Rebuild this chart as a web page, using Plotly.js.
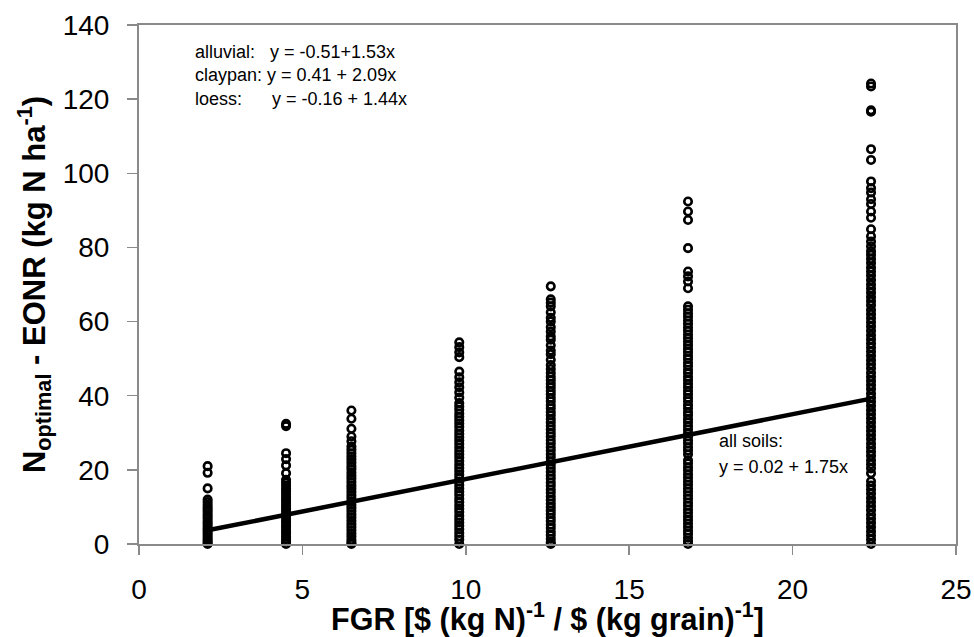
<!DOCTYPE html>
<html>
<head>
<meta charset="utf-8">
<script src="https://cdn.plot.ly/plotly-3.0.1.min.js"></script>
<style>
html, body { margin: 0; padding: 0; background: #fff; }
#chart { width: 974px; height: 637px; }
</style>
</head>
<body>
<div id="chart"></div>
<script>
// FGR levels (x positions of the observation columns)
const fgrLevels = [2.1, 4.5, 6.5, 9.8, 12.6, 16.8, 22.4];

// N optimal - EONR values read from each column
const obsFgr2_1 = [21.0, 19.2, 15.0, 12.0, 11.3, 10.6, 9.9, 9.3, 8.7, 8.0, 7.4, 6.8, 6.1, 5.5, 4.9, 4.3, 3.8, 3.2, 2.6, 2.0, 1.4, 0.9, 0.4, 0.0];
const obsFgr4_5 = [32.4, 31.8, 24.5, 22.9, 21.2, 19.1, 17.3, 16.5, 15.7, 14.9, 14.2, 13.4, 12.6, 11.9, 11.1, 10.3, 9.6, 8.8, 8.0, 7.3, 6.5, 5.8, 5.0, 4.3, 3.5, 2.8, 2.0, 1.3, 0.6, 0.0];
const obsFgr6_5 = [36.0, 33.8, 31.1, 29.0, 27.7, 26.3, 25.4, 24.5, 23.6, 22.8, 21.9, 21.0, 20.2, 19.3, 18.4, 17.6, 16.7, 15.8, 15.0, 14.1, 13.2, 12.4, 11.5, 10.6, 9.8, 8.9, 8.0, 7.2, 6.3, 5.4, 4.6, 3.7, 2.8, 2.0, 1.1, 0.4, 0.0];
const obsFgr9_8 = [54.4, 53.1, 51.7, 50.4, 46.5, 45.0, 43.6, 42.3, 40.9, 39.5, 38.0, 37.1, 36.2, 35.2, 34.3, 33.4, 32.5, 31.6, 30.6, 29.7, 28.8, 27.9, 27.0, 26.0, 25.1, 24.2, 23.3, 22.4, 21.4, 20.5, 19.6, 18.7, 17.8, 16.8, 15.9, 15.0, 14.1, 13.2, 12.2, 11.3, 10.4, 9.5, 8.6, 7.6, 6.7, 5.8, 4.9, 4.0, 3.0, 2.1, 1.2, 0.0];
const obsFgr12_6 = [69.5, 66.0, 65.1, 64.1, 62.5, 61.0, 60.0, 58.5, 57.3, 56.0, 55.1, 53.6, 52.2, 51.2, 49.7, 48.3, 47.2, 46.1, 45.1, 44.2, 43.2, 42.3, 41.3, 40.4, 39.4, 38.5, 37.5, 36.6, 35.6, 34.7, 33.7, 32.8, 31.8, 30.9, 29.9, 29.0, 28.0, 27.1, 26.1, 25.2, 24.2, 23.3, 22.3, 21.4, 20.4, 19.5, 18.5, 17.6, 16.6, 15.7, 14.7, 13.8, 12.8, 11.9, 10.9, 10.0, 9.0, 8.1, 7.1, 6.2, 5.2, 4.3, 3.3, 2.4, 1.4, 0.5, 0.0];
const obsFgr16_8 = [92.4, 89.7, 87.4, 79.8, 73.5, 72.2, 70.8, 69.0, 64.1, 63.2, 62.2, 61.3, 60.3, 59.4, 58.4, 57.5, 56.5, 55.6, 54.6, 53.7, 52.7, 51.8, 50.8, 49.9, 48.9, 48.0, 47.0, 46.1, 45.1, 44.2, 43.2, 42.3, 41.3, 40.4, 39.4, 38.5, 37.5, 36.6, 35.6, 34.7, 33.7, 32.8, 31.8, 30.9, 29.9, 29.0, 28.0, 27.1, 26.1, 25.2, 24.2, 22.6, 21.7, 20.7, 19.8, 18.8, 17.9, 16.9, 16.0, 15.0, 14.1, 13.1, 12.2, 11.2, 10.3, 9.3, 8.4, 7.4, 6.5, 5.5, 4.6, 3.6, 2.7, 1.7, 0.8, 0.0];
const obsFgr22_4 = [124.2, 123.4, 117.0, 116.6, 106.5, 103.6, 97.8, 96.0, 94.8, 93.0, 91.7, 89.7, 88.0, 84.9, 83.0, 81.6, 80.3, 79.0, 78.0, 76.9, 75.8, 74.6, 73.5, 72.4, 71.2, 70.0, 68.9, 67.8, 66.6, 65.5, 64.4, 63.1, 62.0, 60.9, 59.8, 58.7, 57.5, 56.3, 55.2, 54.1, 53.0, 51.9, 50.8, 49.6, 48.5, 47.4, 46.2, 45.1, 44.0, 42.9, 41.8, 40.6, 39.5, 38.4, 37.3, 36.1, 35.0, 33.9, 32.8, 31.6, 30.5, 29.4, 28.3, 27.1, 26.0, 24.9, 23.8, 22.6, 21.5, 20.4, 19.1, 16.9, 15.8, 14.7, 13.6, 12.4, 11.3, 10.2, 9.1, 7.9, 6.8, 5.7, 4.6, 3.4, 2.3, 1.2, 0.0];

// All-soils regression
const fitIntercept = 0.02;
const fitSlope = 1.75;

// Equation labels
const eqLines = [
  "alluvial:\u00a0\u00a0\u00a0y = -0.51+1.53x",
  "claypan: y = 0.41 + 2.09x",
  "loess:\u00a0\u00a0\u00a0\u00a0\u00a0\u00a0y = -0.16 + 1.44x"
];
const allSoilsLines = ["all soils:", "y = 0.02 + 1.75x"];

const columns = [obsFgr2_1, obsFgr4_5, obsFgr6_5, obsFgr9_8, obsFgr12_6, obsFgr16_8, obsFgr22_4];
const xs = [], ys = [];
columns.forEach((col, i) => col.forEach(v => { xs.push(fgrLevels[i]); ys.push(v); }));

const xMin = Math.min(...fgrLevels), xMax = Math.max(...fgrLevels);
const fitX = [xMin, xMax];
const fitY = fitX.map(x => fitIntercept + fitSlope * x);

const FONT = "Liberation Sans, Arial, sans-serif";
const AXC = "#8a8a8a";

const traces = [
  {
    type: "scatter", mode: "markers", x: xs, y: ys, cliponaxis: false,
    marker: { symbol: "circle-open", size: 7.5, color: "#000", line: { width: 2.6, color: "#000" } },
    hoverinfo: "x+y", showlegend: false
  },
  {
    type: "scatter", mode: "lines", x: fitX, y: fitY, cliponaxis: false,
    line: { color: "#000", width: 4.5 }, showlegend: false
  }
];

const annotations = [];
eqLines.forEach((t, i) => annotations.push({
  xref: "paper", yref: "paper", x: (193 - 139) / 817, y: 1 - (52 + i * 23.3 - 25) / 519.3,
  xanchor: "left", yanchor: "middle", showarrow: false, text: t,
  font: { family: FONT, size: 18, color: "#000" }
}));
allSoilsLines.forEach((t, i) => annotations.push({
  xref: "paper", yref: "paper", x: (717 - 139) / 817, y: 1 - (441 + i * 26 - 25) / 519.3,
  xanchor: "left", yanchor: "middle", showarrow: false, text: t,
  font: { family: FONT, size: 18, color: "#000" }
}));

const layout = {
  width: 974, height: 637,
  margin: { l: 139, r: 18, t: 25, b: 93, pad: 0 },
  paper_bgcolor: "#fff", plot_bgcolor: "#fff",
  font: { family: FONT, color: "#000" },
  showlegend: false,
  xaxis: {
    range: [0, 25], dtick: 5, tick0: 0,
    showgrid: false, zeroline: false,
    showline: true, linecolor: AXC, linewidth: 2, mirror: true,
    ticks: "outside", ticklen: 9, tickwidth: 1.5, tickcolor: AXC,
    ticklabelstandoff: 10,
    tickfont: { family: FONT, size: 28, color: "#000" },
    automargin: false,
    title: {
      text: "<b>FGR [$ (kg N)<sup>-1</sup> / $ (kg grain)<sup>-1</sup>]</b>",
      font: { family: FONT, size: 30.5, color: "#000" }, standoff: 6
    }
  },
  yaxis: {
    range: [0, 140], dtick: 20, tick0: 0,
    showgrid: false, zeroline: false,
    showline: true, linecolor: AXC, linewidth: 2, mirror: true,
    ticks: "outside", ticklen: 10, tickwidth: 1.5, tickcolor: AXC,
    ticklabelstandoff: 12,
    tickfont: { family: FONT, size: 28, color: "#000" },
    automargin: false,
    title: {
      text: "<b>N<sub>optimal</sub> - EONR (kg N ha<sup>-1</sup>)</b>",
      font: { family: FONT, size: 31, color: "#000" }, standoff: 8
    }
  },
  annotations: annotations
};

Plotly.newPlot("chart", traces, layout, { staticPlot: true, displayModeBar: false });
</script>
</body>
</html>
